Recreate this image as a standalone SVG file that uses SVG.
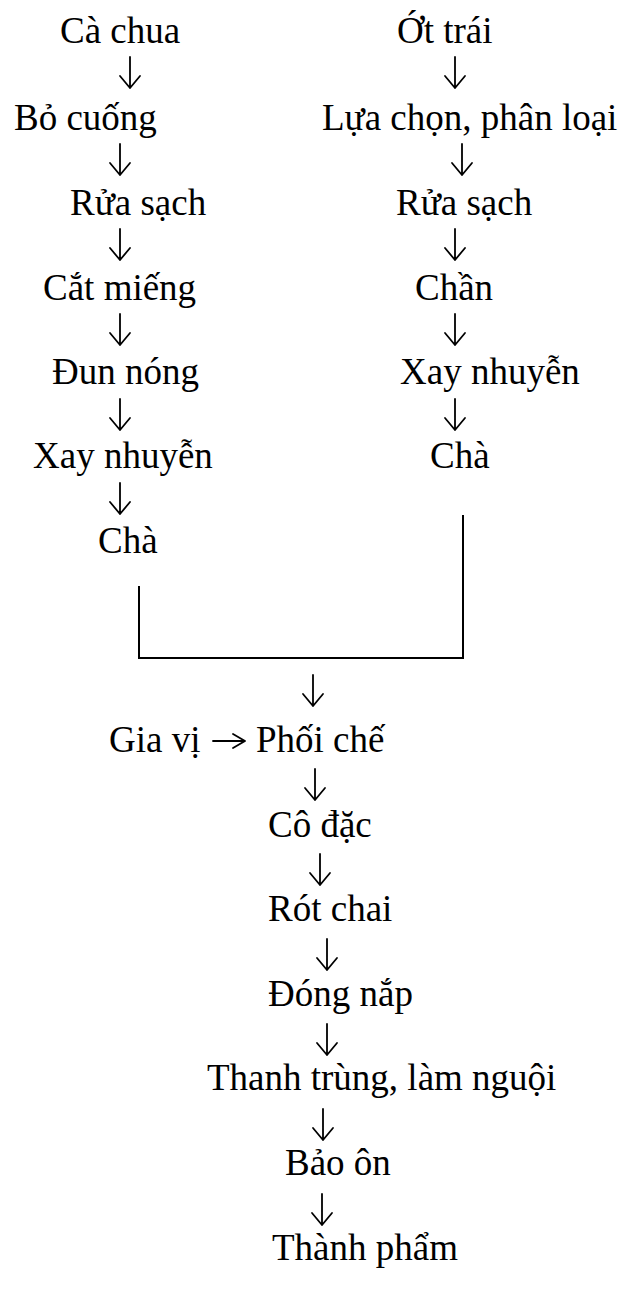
<svg xmlns="http://www.w3.org/2000/svg" width="621" height="1291" viewBox="0 0 621 1291">
  <style>
    .t { font-family: "Liberation Serif", "Times New Roman", serif; font-size: 37px; fill: #000; }
    .a { fill: none; stroke: #000; stroke-width: 1.8; stroke-linecap: round; stroke-linejoin: round; }
    .l { fill: none; stroke: #000; stroke-width: 2; }
  </style>
  <defs>
    <!-- down arrow: shaft plus open head, origin at the tip -->
    <path id="dn" d="M0,-31 V0 M-10,-12 L0,0 L10,-12"/>
    <!-- right arrow: shaft plus open head, origin at the tip -->
    <path id="rt" d="M-32,0 H0 M-12,-7 L0,0 L-12,7"/>
  </defs>
  <rect width="621" height="1291" fill="#fff"/>

  <!-- tomato branch -->
  <g id="n-ca-chua"><text class="t" x="60" y="43">Cà chua</text></g>
  <g id="n-bo-cuong"><text class="t" x="14" y="130">Bỏ cuống</text></g>
  <g id="n-rua-sach-1"><text class="t" x="70" y="215">Rửa sạch</text></g>
  <g id="n-cat-mieng"><text class="t" x="43" y="300">Cắt miếng</text></g>
  <g id="n-dun-nong"><text class="t" x="52" y="384">Đun nóng</text></g>
  <g id="n-xay-1"><text class="t" x="33" y="468">Xay nhuyễn</text></g>
  <g id="n-cha-1"><text class="t" x="98" y="553">Chà</text></g>

  <!-- chili branch -->
  <g id="n-ot-trai"><text class="t" x="397" y="43">Ớt trái</text></g>
  <g id="n-lua-chon"><text class="t" x="322" y="130">Lựa chọn, phân loại</text></g>
  <g id="n-rua-sach-2"><text class="t" x="396" y="215">Rửa sạch</text></g>
  <g id="n-chan"><text class="t" x="415" y="300">Chần</text></g>
  <g id="n-xay-2"><text class="t" x="400" y="384">Xay nhuyễn</text></g>
  <g id="n-cha-2"><text class="t" x="430" y="468">Chà</text></g>

  <!-- common line -->
  <g id="n-gia-vi"><text class="t" x="109" y="752">Gia vị</text></g>
  <g id="n-phoi-che"><text class="t" x="256" y="752">Phối chế</text></g>
  <g id="n-co-dac"><text class="t" x="268" y="837">Cô đặc</text></g>
  <g id="n-rot-chai"><text class="t" x="268" y="921">Rót chai</text></g>
  <g id="n-dong-nap"><text class="t" x="268" y="1006">Đóng nắp</text></g>
  <g id="n-thanh-trung"><text class="t" x="207" y="1090">Thanh trùng, làm nguội</text></g>
  <g id="n-bao-on"><text class="t" x="285" y="1175">Bảo ôn</text></g>
  <g id="n-thanh-pham"><text class="t" x="272" y="1260">Thành phẩm</text></g>

  <g id="connectors">
    <use href="#dn" class="a" x="130" y="88"/>
    <use href="#dn" class="a" x="120" y="175"/>
    <use href="#dn" class="a" x="120" y="260"/>
    <use href="#dn" class="a" x="120" y="345"/>
    <use href="#dn" class="a" x="120" y="430"/>
    <use href="#dn" class="a" x="120" y="514"/>

    <use href="#dn" class="a" x="455" y="88"/>
    <use href="#dn" class="a" x="462" y="175"/>
    <use href="#dn" class="a" x="455" y="260"/>
    <use href="#dn" class="a" x="455" y="345"/>
    <use href="#dn" class="a" x="455" y="430"/>

    <path class="l" d="M139,586 V658 H463 V515"/>

    <use href="#dn" class="a" x="313" y="706"/>
    <use href="#rt" class="a" x="245" y="741"/>
    <use href="#dn" class="a" x="315" y="800"/>
    <use href="#dn" class="a" x="320" y="885"/>
    <use href="#dn" class="a" x="327" y="970"/>
    <use href="#dn" class="a" x="327" y="1055"/>
    <use href="#dn" class="a" x="323" y="1140"/>
    <use href="#dn" class="a" x="322" y="1225"/>
  </g>
</svg>
